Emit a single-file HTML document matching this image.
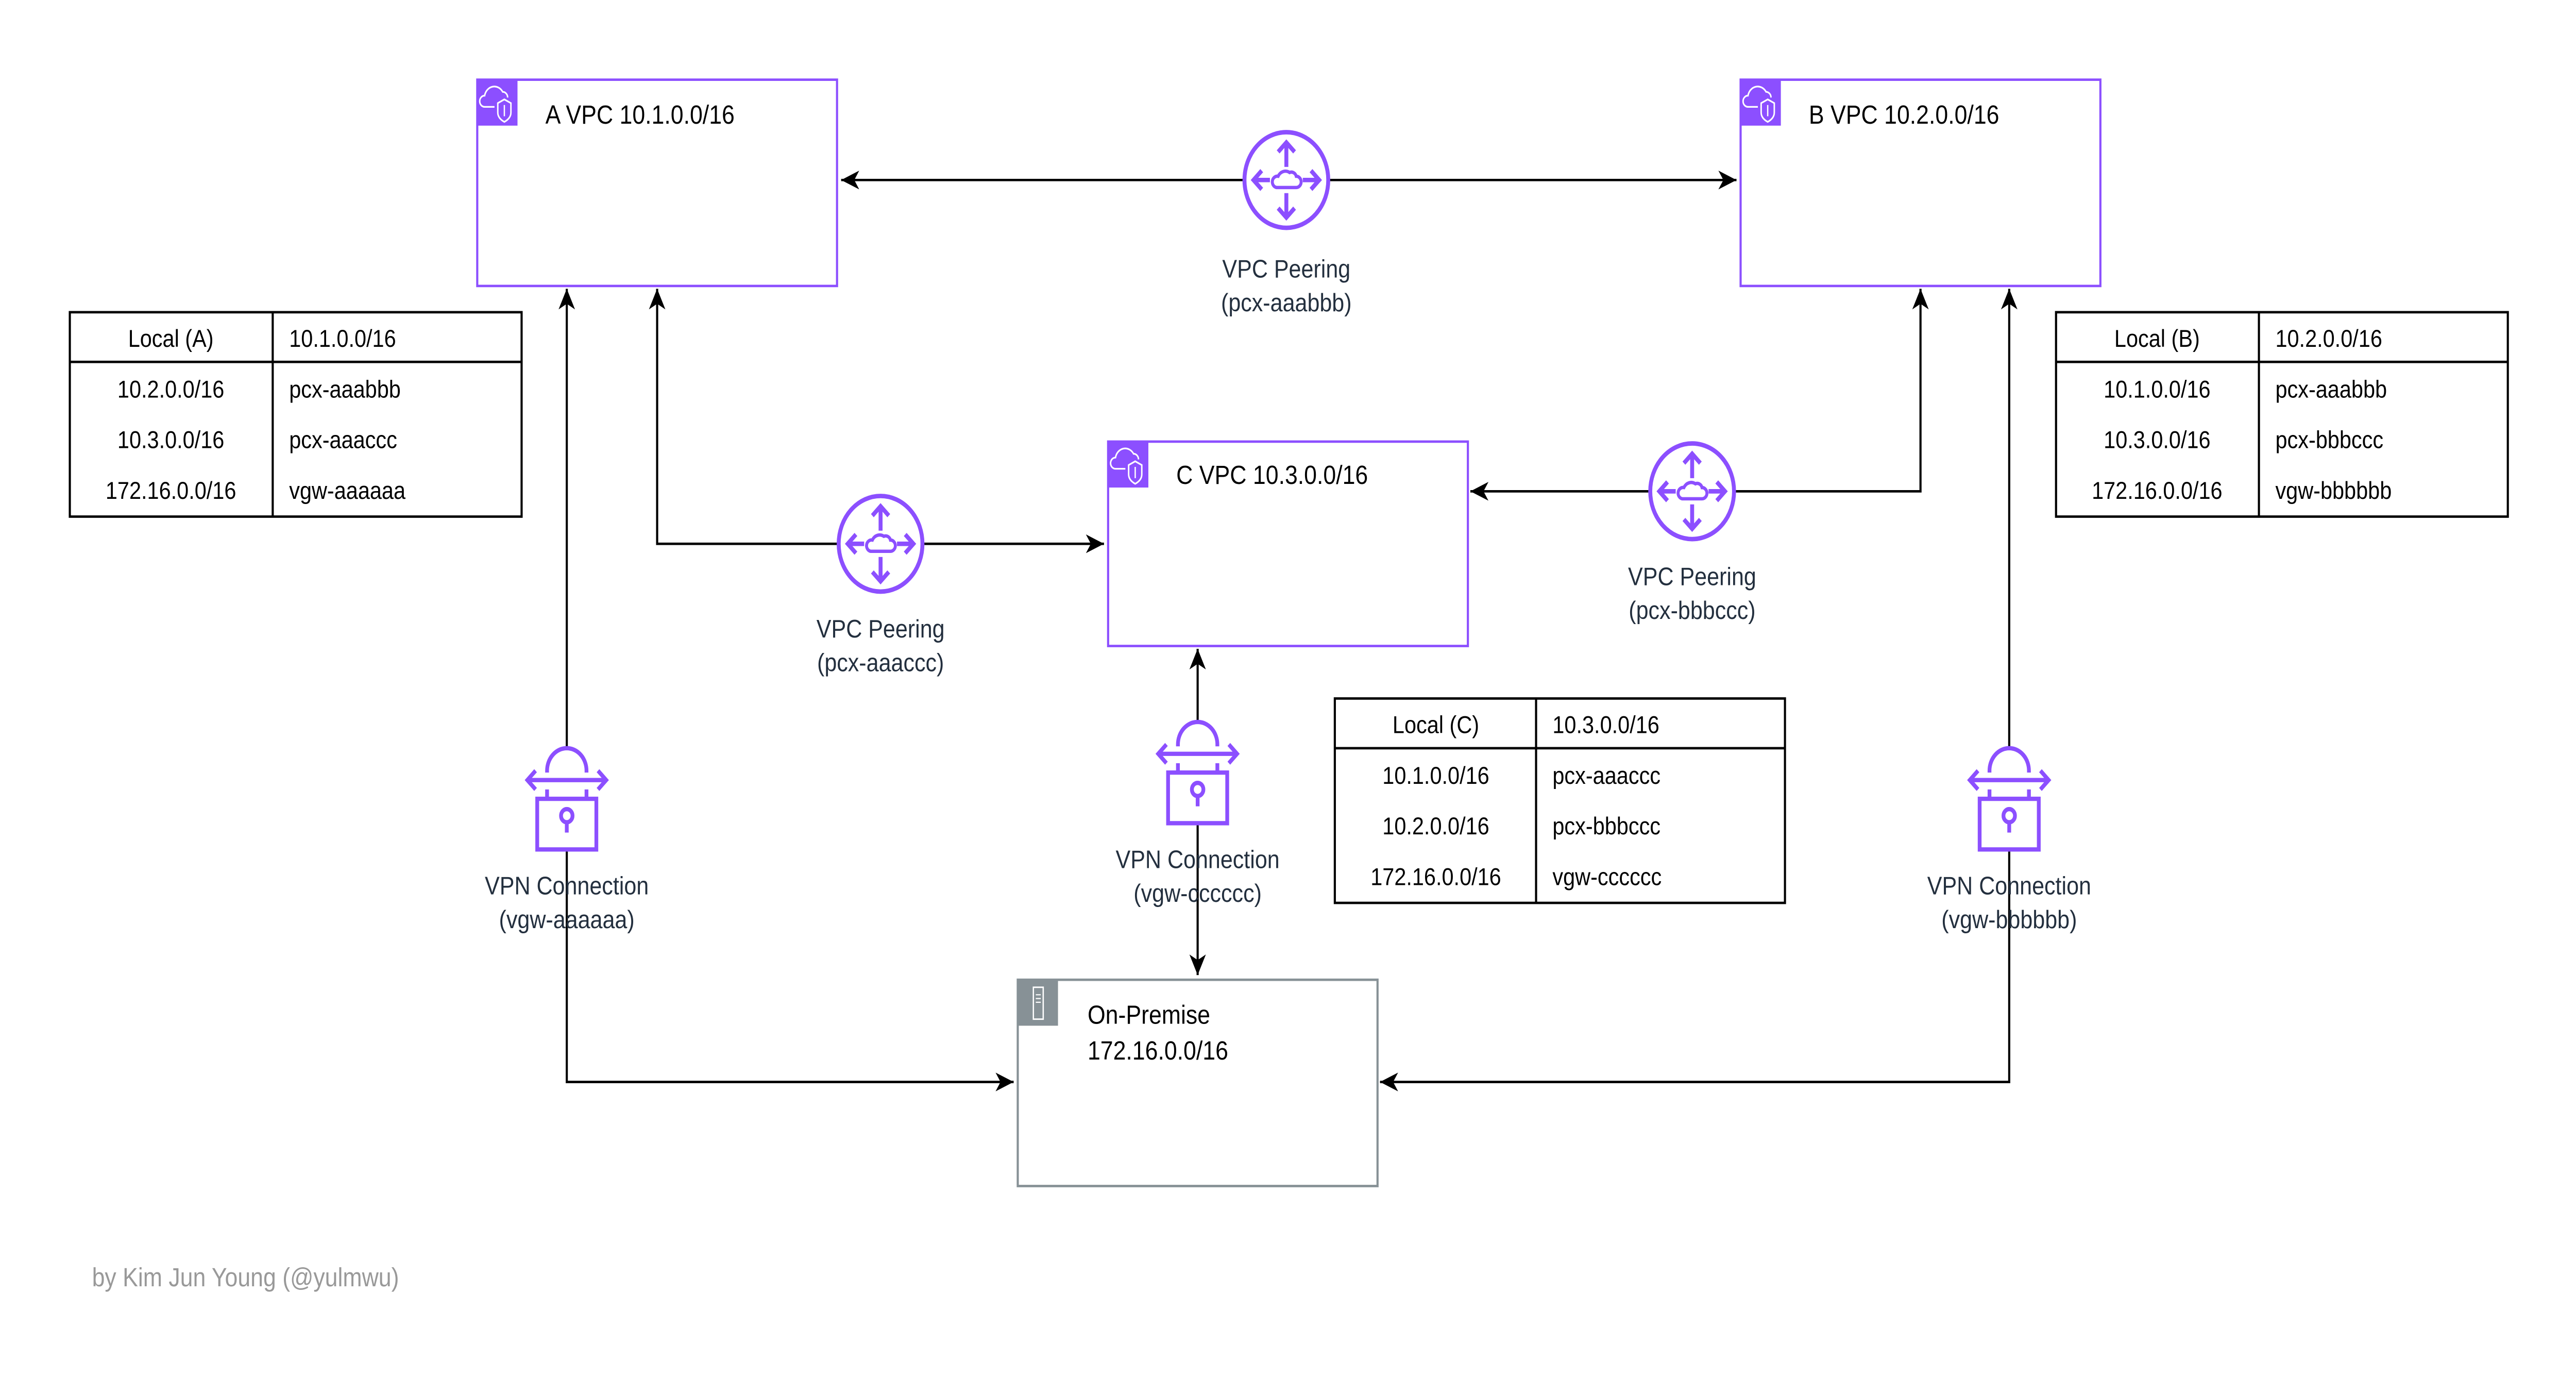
<!DOCTYPE html>
<html><head><meta charset="utf-8"><style>
html,body{margin:0;padding:0;background:#fff;width:100%;height:100%;overflow:hidden}
svg{display:block;position:fixed;left:0;top:0;width:100vw;height:100vh}
</style></head>
<body>
<svg viewBox="0 0 1568 743.4" preserveAspectRatio="none" xmlns="http://www.w3.org/2000/svg" font-family="'Liberation Sans', sans-serif">
<defs>
<marker id="ah" markerUnits="userSpaceOnUse" markerWidth="12" markerHeight="10" refX="11" refY="5" orient="auto-start-reverse" viewBox="0 0 12 10">
<path d="M0,0 L11,5 L0,10 L3,5 Z" fill="#000"/></marker>
<g id="peer" fill="none" stroke="#8C4FFF" stroke-width="2.4">
<circle r="25.5" fill="#fff"/>
<path d="M0,-7 V-20 M-5,-15 L0,-20 L5,-15"/>
<path d="M0,7 V20 M-5,15 L0,20 L5,15"/>
<path d="M-10,0 H-20 M-15,-5 L-20,0 L-15,5"/>
<path d="M10,0 H20 M15,-5 L20,0 L15,5"/>
<path d="M-6,4 H6 A3,3 0 0 0 6,-2 A3,3 0 0 0 2,-4 A5,5 0 0 0 -5,-2 A3,3 0 0 0 -6,4 Z" stroke-width="1.8"/>
</g>
<g id="lock" fill="none" stroke="#8C4FFF" stroke-width="2.3">
<rect x="-25" y="-18" width="50" height="56" fill="#fff" stroke="none"/>
<path d="M-12,-4 V-5 A12,12 0 0 1 12,-5 V-4"/>
<path d="M-24,0 H24 M-19,-5 L-24,0 L-19,5 M19,-5 L24,0 L19,5"/>
<path d="M-12,5 V10 M12,5 V10"/>
<rect x="-18" y="10" width="36" height="27"/>
<circle cx="0" cy="19" r="3.5"/>
<path d="M0,22.5 V28"/>
</g>
<g id="vpcicon">
<rect width="25" height="25" fill="#8C4FFF"/>
<path d="M11,15 H5 A3,3 0 0 1 5,9 A6,6 0 0 1 16,7 A3,3 0 0 1 19,10" fill="none" stroke="#fff" stroke-width="0.9"/>
<path d="M17,11 L21,13 V18 Q21,21 17,23 Q13,21 13,18 V13 Z" fill="#8C4FFF" stroke="#fff" stroke-width="0.9"/>
<path d="M17,14 V20" stroke="#fff" stroke-width="0.8"/>
</g>
</defs>

<g stroke="#000" stroke-width="1.3" fill="none">
<line x1="1057" y1="96" x2="512" y2="96" marker-end="url(#ah)" marker-start="url(#ah)"/>
<path d="M672,290 H400 V154" marker-end="url(#ah)" marker-start="url(#ah)"/>
<path d="M895,262 H1169 V154" marker-end="url(#ah)" marker-start="url(#ah)"/>
<path d="M345,154 V577 H617" marker-end="url(#ah)" marker-start="url(#ah)"/>
<path d="M1223,154 V577 H840" marker-end="url(#ah)" marker-start="url(#ah)"/>
<path d="M729,346 V520" marker-end="url(#ah)" marker-start="url(#ah)"/>
</g>

<rect x="290.5" y="42.5" width="219" height="110" fill="#fff" stroke="#8C4FFF" stroke-width="1.3"/>
<use href="#vpcicon" x="290" y="42"/>
<text x="332" y="66" font-size="14">A VPC 10.1.0.0/16</text>

<rect x="1059.5" y="42.5" width="219" height="110" fill="#fff" stroke="#8C4FFF" stroke-width="1.3"/>
<use href="#vpcicon" x="1059" y="42"/>
<text x="1101" y="66" font-size="14">B VPC 10.2.0.0/16</text>

<rect x="674.5" y="235.5" width="219" height="109" fill="#fff" stroke="#8C4FFF" stroke-width="1.3"/>
<use href="#vpcicon" x="674" y="235"/>
<text x="716" y="258" font-size="14">C VPC 10.3.0.0/16</text>

<rect x="619.5" y="522.5" width="219" height="110" fill="#fff" stroke="#879196" stroke-width="1.3"/>
<rect x="619" y="522" width="25" height="25" fill="#879196"/>
<rect x="629" y="526.5" width="6" height="17" fill="none" stroke="#fff" stroke-width="0.8"/>
<path d="M630.5,530.5 H633.5 M630.5,532.5 H633.5 M630.5,534.5 H633.5" stroke="#fff" stroke-width="0.6"/>
<text x="662" y="546" font-size="14">On-Premise</text>
<text x="662" y="565" font-size="14">172.16.0.0/16</text>

<use href="#peer" x="783" y="96"/>
<use href="#peer" x="536" y="290"/>
<use href="#peer" x="1030" y="262"/>
<g font-size="13.5" text-anchor="middle" fill="#232F3E">
<text x="783" y="148">VPC Peering</text><text x="783" y="166">(pcx-aaabbb)</text>
<text x="536" y="340">VPC Peering</text><text x="536" y="358">(pcx-aaaccc)</text>
<text x="1030" y="312">VPC Peering</text><text x="1030" y="330">(pcx-bbbccc)</text>
</g>

<use href="#lock" x="345" y="416"/>
<use href="#lock" x="729" y="402"/>
<use href="#lock" x="1223" y="416"/>
<g font-size="13.5" text-anchor="middle" fill="#232F3E">
<text x="345" y="477">VPN Connection</text><text x="345" y="495">(vgw-aaaaaa)</text>
<text x="729" y="463">VPN Connection</text><text x="729" y="481">(vgw-cccccc)</text>
<text x="1223" y="477">VPN Connection</text><text x="1223" y="495">(vgw-bbbbbb)</text>
</g>

<g font-size="13" fill="#000">
<g transform="translate(42,166)">
<rect x="0.5" y="0.5" width="275" height="109" fill="#fff" stroke="#000" stroke-width="1.3"/>
<line x1="124" y1="0" x2="124" y2="110" stroke="#000" stroke-width="1.3"/>
<line x1="0" y1="27" x2="276" y2="27" stroke="#000" stroke-width="1.3"/>
<g text-anchor="middle"><text x="62" y="19">Local (A)</text><text x="62" y="46">10.2.0.0/16</text><text x="62" y="73">10.3.0.0/16</text><text x="62" y="100">172.16.0.0/16</text></g>
<text x="134" y="19">10.1.0.0/16</text><text x="134" y="46">pcx-aaabbb</text><text x="134" y="73">pcx-aaaccc</text><text x="134" y="100">vgw-aaaaaa</text>
</g>
<g transform="translate(1251,166)">
<rect x="0.5" y="0.5" width="275" height="109" fill="#fff" stroke="#000" stroke-width="1.3"/>
<line x1="124" y1="0" x2="124" y2="110" stroke="#000" stroke-width="1.3"/>
<line x1="0" y1="27" x2="276" y2="27" stroke="#000" stroke-width="1.3"/>
<g text-anchor="middle"><text x="62" y="19">Local (B)</text><text x="62" y="46">10.1.0.0/16</text><text x="62" y="73">10.3.0.0/16</text><text x="62" y="100">172.16.0.0/16</text></g>
<text x="134" y="19">10.2.0.0/16</text><text x="134" y="46">pcx-aaabbb</text><text x="134" y="73">pcx-bbbccc</text><text x="134" y="100">vgw-bbbbbb</text>
</g>
<g transform="translate(812,372)">
<rect x="0.5" y="0.5" width="274" height="109" fill="#fff" stroke="#000" stroke-width="1.3"/>
<line x1="123" y1="0" x2="123" y2="110" stroke="#000" stroke-width="1.3"/>
<line x1="0" y1="27" x2="275" y2="27" stroke="#000" stroke-width="1.3"/>
<g text-anchor="middle"><text x="62" y="19">Local (C)</text><text x="62" y="46">10.1.0.0/16</text><text x="62" y="73">10.2.0.0/16</text><text x="62" y="100">172.16.0.0/16</text></g>
<text x="133" y="19">10.3.0.0/16</text><text x="133" y="46">pcx-aaaccc</text><text x="133" y="73">pcx-bbbccc</text><text x="133" y="100">vgw-cccccc</text>
</g>
</g>

<text x="56" y="686" font-size="14" fill="#999">by Kim Jun Young (@yulmwu)</text>
</svg>
</body></html>
